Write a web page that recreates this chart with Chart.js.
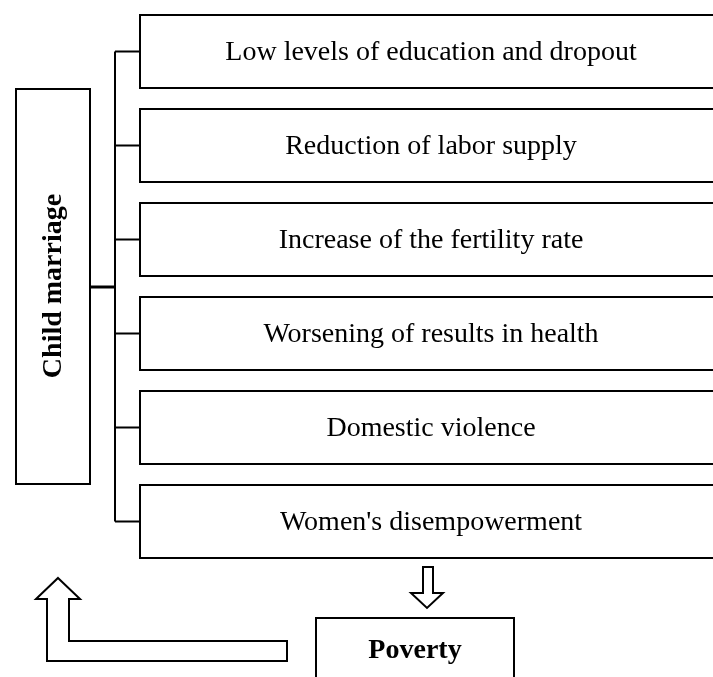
<!DOCTYPE html>
<html>
<head>
<meta charset="utf-8">
<script src="https://cdn.jsdelivr.net/npm/chart.js@4/dist/chart.umd.min.js"></script>
<style>
html,body{margin:0;padding:0;background:#fff;}
#wrap{width:713px;height:677px;position:relative;}
</style>
</head>
<body>
<div id="wrap"><canvas id="c"></canvas></div>
<script>
// ---- data ----
const consequences = [
  "Low levels of education and dropout",
  "Reduction of labor supply",
  "Increase of the fertility rate",
  "Worsening of results in health",
  "Domestic violence",
  "Women's disempowerment"
];
const boxSpans = [[0,1],[0,1],[0,1],[0,1],[0,1],[0,1]];
const causeLabel = "Child marriage";
const outcomeLabel = "Poverty";

// ---- layout / style (not data) ----
const FONT = '"Liberation Serif","Times New Roman",serif';
const INK = '#000';

const diagramPlugin = {
  id: 'diagram',
  afterDatasetsDraw(chart) {
    const ctx = chart.ctx;
    const meta = chart.getDatasetMeta(0);
    const area = chart.chartArea;
    const bars = meta.data;
    ctx.save();
    // box labels
    ctx.fillStyle = INK;
    ctx.font = '28px ' + FONT;
    ctx.textAlign = 'center';
    ctx.textBaseline = 'middle';
    bars.forEach((b, i) => {
      const cx = (b.base + b.x) / 2;
      ctx.fillText(consequences[i], cx, b.y + 1);
    });

    // connector trunk
    const trunkX = area.left - 24;
    ctx.strokeStyle = INK;
    ctx.lineWidth = 2;
    ctx.lineCap = 'butt';
    ctx.beginPath();
    ctx.moveTo(trunkX, bars[0].y);
    ctx.lineTo(trunkX, bars[bars.length - 1].y);
    bars.forEach(b => {
      ctx.moveTo(trunkX, b.y);
      ctx.lineTo(b.base, b.y);
    });
    ctx.stroke();

    // cause box
    const cb = {l: 15, r: 91, t: 88, b: 485};
    ctx.lineWidth = 2;
    ctx.strokeRect(cb.l + 1, cb.t + 1, cb.r - cb.l - 2, cb.b - cb.t - 2);
    const midY = 287;
    ctx.lineWidth = 3;
    ctx.beginPath();
    ctx.moveTo(cb.r, midY);
    ctx.lineTo(trunkX, midY);
    ctx.stroke();

    ctx.save();
    ctx.translate((cb.l + cb.r) / 2 + 0.5, 286);
    ctx.rotate(-Math.PI / 2);
    ctx.font = 'bold 28px ' + FONT;
    ctx.textAlign = 'center';
    ctx.textBaseline = 'middle';
    ctx.fillText(causeLabel, 0, 0);
    ctx.restore();

    // down arrow
    ctx.lineWidth = 2;
    ctx.lineJoin = 'miter';
    ctx.beginPath();
    ctx.moveTo(423, 567);
    ctx.lineTo(433, 567);
    ctx.lineTo(433, 593);
    ctx.lineTo(443, 593);
    ctx.lineTo(427, 608);
    ctx.lineTo(411, 593);
    ctx.lineTo(423, 593);
    ctx.closePath();
    ctx.stroke();

    // outcome box
    ctx.strokeRect(316, 618, 514 - 316, 100);
    ctx.font = 'bold 28px ' + FONT;
    ctx.fillText(outcomeLabel, 415, 651);

    // return arrow
    ctx.beginPath();
    ctx.moveTo(58, 578);
    ctx.lineTo(80, 599);
    ctx.lineTo(69, 599);
    ctx.lineTo(69, 641);
    ctx.lineTo(287, 641);
    ctx.lineTo(287, 661);
    ctx.lineTo(47, 661);
    ctx.lineTo(47, 599);
    ctx.lineTo(36, 599);
    ctx.closePath();
    ctx.stroke();
    ctx.restore();
  }
};

new Chart(document.getElementById('c'), {
  type: 'bar',
  data: {
    labels: consequences,
    datasets: [{
      data: boxSpans,
      backgroundColor: '#fff',
      borderColor: INK,
      borderWidth: 2,
      borderSkipped: false,
      barPercentage: 1,
      categoryPercentage: 75 / 94
    }]
  },
  options: {
    indexAxis: 'y',
    responsive: true,
    maintainAspectRatio: false,
    animation: false,
    events: [],
    layout: {padding: {left: 139, right: 0, top: 4.5, bottom: 108.5}},
    scales: {
      x: {type: 'linear', min: 0, max: 574 / 584, display: false},
      y: {type: 'category', display: false}
    },
    plugins: {legend: {display: false}, tooltip: {enabled: false}, title: {display: false}}
  },
  plugins: [diagramPlugin]
});
</script>
</body>
</html>
